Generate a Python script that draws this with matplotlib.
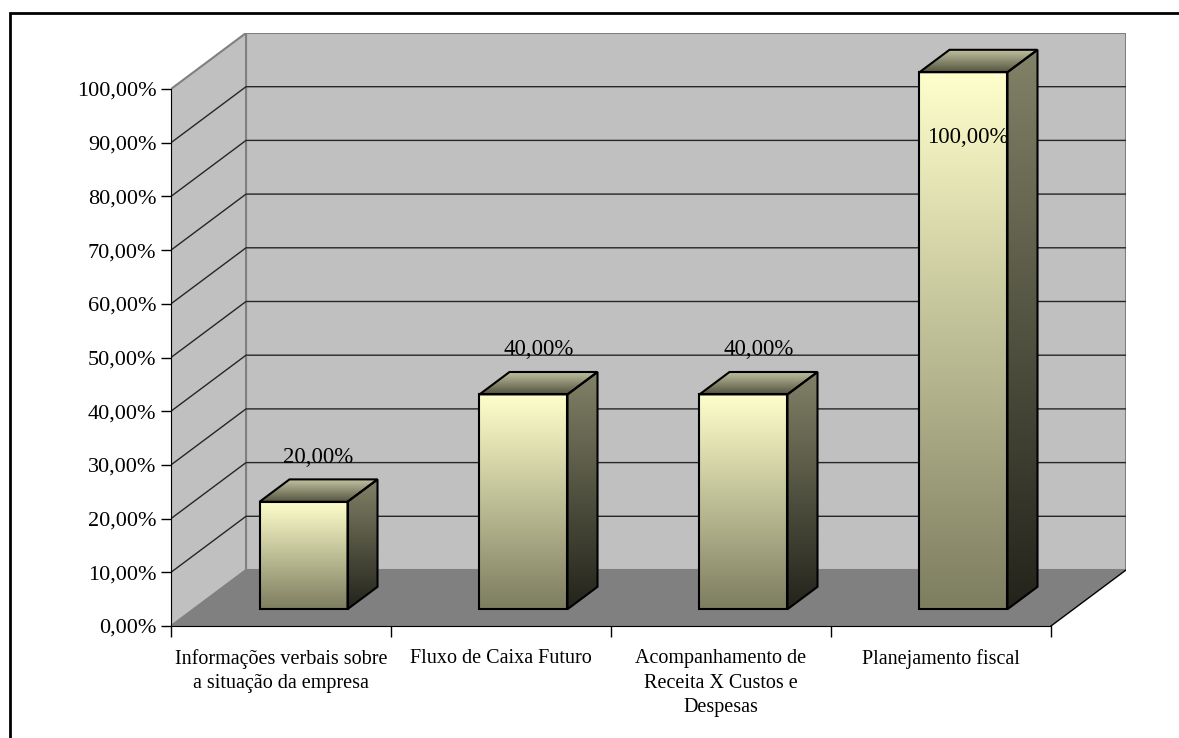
import numpy as np
import matplotlib
matplotlib.use("Agg")
import matplotlib.pyplot as plt
from matplotlib.patches import Polygon, Rectangle
from matplotlib.colors import LinearSegmentedColormap

plt.rcParams['font.family'] = ['Liberation Serif', 'DejaVu Serif']

categories = [
    "Informações verbais sobre\na situação da empresa",
    "Fluxo de Caixa Futuro",
    "Acompanhamento de\nReceita X Custos e\nDespesas",
    "Planejamento fiscal",
]
values = [20.0, 40.0, 40.0, 100.0]
y_ticks = [0, 10, 20, 30, 40, 50, 60, 70, 80, 90, 100]

# depth offset of the 3D box, in category units (x) and percent units (y)
DX = 0.341
DY = 10.43
BAR_HALF = 0.2
D_FRONT, D_BACK = 0.3, 0.7

WALL = "#C0C0C0"
FLOOR = "#808080"
EDGE = "#808080"


def pct(v):
    return f"{v:.2f}%".replace(".", ",")


def gradient_poly(ax, verts, top_color, bottom_color, z):
    # fill a polygon with a vertical gradient, then outline it
    poly = Polygon(verts, closed=True, facecolor="none", edgecolor="none", zorder=z)
    ax.add_patch(poly)
    xs = [p[0] for p in verts]
    ys = [p[1] for p in verts]
    cmap = LinearSegmentedColormap.from_list("g", [bottom_color, top_color])
    grad = np.linspace(0, 1, 256).reshape(-1, 1)
    im = ax.imshow(grad, cmap=cmap, origin="lower", aspect="auto",
                   extent=(min(xs), max(xs), min(ys), max(ys)), zorder=z,
                   interpolation="bilinear")
    im.set_clip_path(poly)
    ax.add_patch(Polygon(verts, closed=True, facecolor="none",
                         edgecolor="black", linewidth=1.5, zorder=z + 0.1,
                         joinstyle="miter"))


fig = plt.figure(figsize=(11.79, 7.38), dpi=100)
ax = fig.add_axes([171 / 1179, 112 / 738, 955 / 1179, 593 / 738])
n = len(categories)

# walls and floor
ax.add_patch(Rectangle((DX, DY), n, 100, facecolor=WALL, edgecolor=EDGE,
                       linewidth=1.5, zorder=0))
ax.add_patch(Polygon([(0, 0), (DX, DY), (DX, 100 + DY), (0, 100)],
                     facecolor=WALL, edgecolor=EDGE, linewidth=1.5, zorder=0.5))
ax.add_patch(Polygon([(0, 0), (n, 0), (n + DX, DY), (DX, DY)],
                     facecolor=FLOOR, edgecolor="none", zorder=1))
ax.plot([n, n + DX], [0, DY], color="black", linewidth=1, zorder=1.2)

# gridlines on left and back walls
for v in y_ticks[1:-1]:
    ax.plot([0, DX, n + DX], [v, v + DY, v + DY], color="#262626",
            linewidth=1, zorder=1.5)

# bars
for i, v in enumerate(values):
    c = i + 0.5
    xl = c - BAR_HALF + D_FRONT * DX
    xr = c + BAR_HALF + D_FRONT * DX
    y0 = D_FRONT * DY
    y1 = v + D_FRONT * DY
    ddx = (D_BACK - D_FRONT) * DX
    ddy = (D_BACK - D_FRONT) * DY
    gradient_poly(ax, [(xl, y0), (xr, y0), (xr, y1), (xl, y1)],
                  "#FFFFCC", "#7D7D60", 3)
    gradient_poly(ax, [(xr, y0), (xr + ddx, y0 + ddy), (xr + ddx, y1 + ddy), (xr, y1)],
                  "#828268", "#23231B", 3)
    gradient_poly(ax, [(xl, y1), (xr, y1), (xr + ddx, y1 + ddy), (xl + ddx, y1 + ddy)],
                  "#C4C4A4", "#55553F", 3)

    # value label above the bar, kept inside the wall when too tall
    ty = v + 0.5 * DY + 5.2
    tx = c + 0.5 * DX
    if ty > 100:
        ty = 90
        tx = c + 0.36 * DX
    ax.text(tx, ty, pct(v), ha="center", va="baseline", fontsize=16.5,
            color="black", zorder=5)

ax.set_xlim(0, n + DX)
ax.set_ylim(0, 100 + DY)

for s in ["top", "right"]:
    ax.spines[s].set_visible(False)
ax.spines["left"].set_bounds(0, 100)
ax.spines["bottom"].set_bounds(0, n)
ax.spines["left"].set_zorder(6)
ax.spines["bottom"].set_zorder(6)

ax.set_yticks(y_ticks)
ax.set_yticklabels([pct(v) for v in y_ticks], fontsize=16)
ax.tick_params(axis="y", direction="out", length=7.5, width=1, pad=3)

ax.set_xticks(range(n + 1))
ax.set_xticklabels([])
ax.tick_params(axis="x", which="major", direction="out", length=8, width=1)
ax.set_xticks([i + 0.5 for i in range(n)], minor=True)
ax.set_xticklabels(categories, minor=True, fontsize=14.5)
ax.tick_params(axis="x", which="minor", length=0, pad=16.5)
for t in ax.get_xticklabels(minor=True):
    t.set_linespacing(1.4)

# outer frame of the chart area
fig.add_artist(Rectangle((10 / 1179, -0.1), 1.2, 1.1 - 13 / 738,
                         transform=fig.transFigure, fill=False,
                         edgecolor="black", linewidth=2))

fig.savefig("out.png", dpi=100)
